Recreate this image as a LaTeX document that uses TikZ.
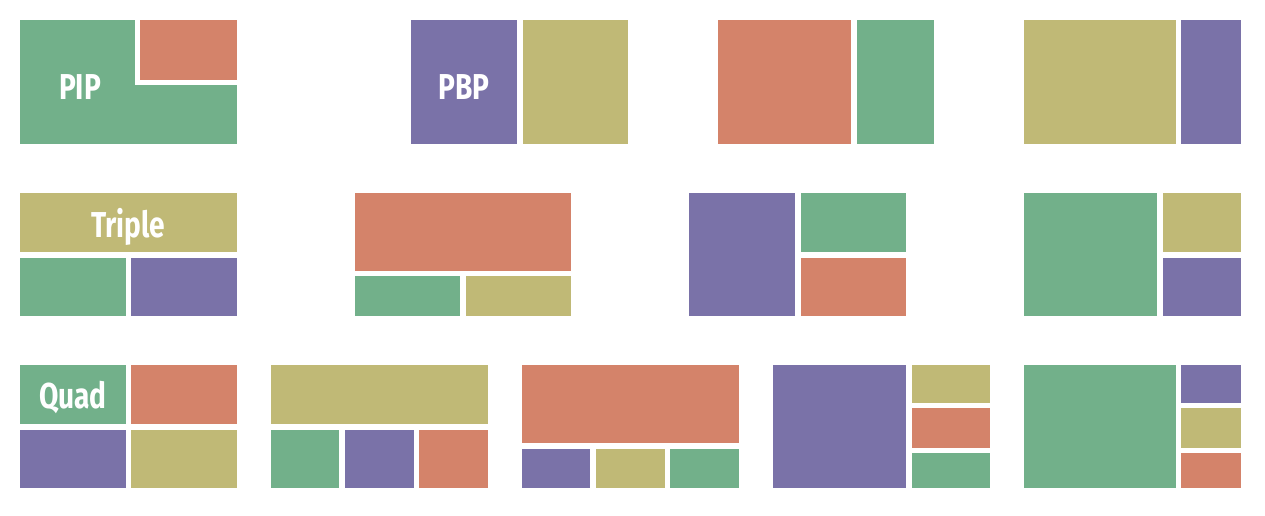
\documentclass[tikz,border=0pt]{standalone}
\usepackage{fontspec}
\newfontfamily\labfont{Fira Sans}[FakeStretch=0.78]
\definecolor{cg}{HTML}{72B08A}
\definecolor{co}{HTML}{D4836A}
\definecolor{cp}{HTML}{7A72A8}
\definecolor{cy}{HTML}{C0B976}
\tikzset{
  G/.style={fill=cg},
  O/.style={fill=co},
  P/.style={fill=cp},
  Y/.style={fill=cy},
  W/.style={fill=white},
  lab/.style={text=white, font=\labfont\bfseries\fontsize{36}{36}\selectfont, inner sep=0pt, anchor=base}
}
\begin{document}
\begin{tikzpicture}[x=1pt,y=-1pt]
\useasboundingbox[fill=white] (0,0) rectangle (1265,516);
% Row 1
\path[G] (20,20) rectangle (237,144);
\path[W] (135,20) rectangle (237,85);
\path[O] (140,20) rectangle (237,80);
\node[lab] (pip) at (80,100) {PIP};
\path[P] (411,20) rectangle (517,144);
\path[Y] (523,20) rectangle (628,144);
\node[lab] (pbp) at (464,100) {PBP};
\path[O] (718,20) rectangle (851,144);
\path[G] (857,20) rectangle (934,144);
\path[Y] (1024,20) rectangle (1176,144);
\path[P] (1181,20) rectangle (1241,144);
% Row 2
\path[Y] (20,193) rectangle (237,252);
\path[G] (20,258) rectangle (126,316);
\path[P] (131,258) rectangle (237,316);
\node[lab] (triple) at (128,237) {Triple};
\path[O] (355,193) rectangle (571,271);
\path[G] (355,276) rectangle (460,316);
\path[Y] (466,276) rectangle (571,316);
\path[P] (689,193) rectangle (795,316);
\path[G] (801,193) rectangle (906,252);
\path[O] (801,258) rectangle (906,316);
\path[G] (1024,193) rectangle (1157,316);
\path[Y] (1163,193) rectangle (1241,252);
\path[P] (1163,258) rectangle (1241,316);
% Row 3
\path[G] (20,365) rectangle (126,424);
\path[O] (131,365) rectangle (237,424);
\path[P] (20,430) rectangle (126,488);
\path[Y] (131,430) rectangle (237,488);
\node[lab] (quad) at (73,408) {Quad};
\path[Y] (271,365) rectangle (488,424);
\path[G] (271,430) rectangle (339,488);
\path[P] (345,430) rectangle (414,488);
\path[O] (419,430) rectangle (488,488);
\path[O] (522,365) rectangle (739,443);
\path[P] (522,449) rectangle (590,488);
\path[Y] (596,449) rectangle (665,488);
\path[G] (670,449) rectangle (739,488);
\path[P] (773,365) rectangle (906,488);
\path[Y] (912,365) rectangle (990,403);
\path[O] (912,408) rectangle (990,448);
\path[G] (912,453) rectangle (990,488);
\path[G] (1024,365) rectangle (1176,488);
\path[P] (1181,365) rectangle (1241,403);
\path[Y] (1181,408) rectangle (1241,448);
\path[O] (1181,453) rectangle (1241,488);
\end{tikzpicture}
\end{document}
